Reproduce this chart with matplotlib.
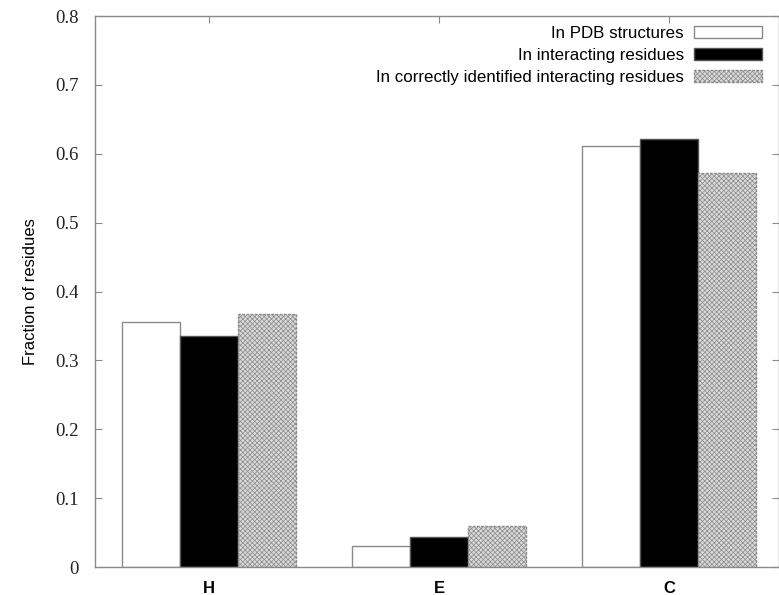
import numpy as np
import matplotlib
matplotlib.use("Agg")
import matplotlib.pyplot as plt

# values
categories = ["H", "E", "C"]
series_names = ["In PDB structures",
                "In interacting residues",
                "In correctly identified interacting residues"]
pdb = [0.356, 0.030, 0.611]
interacting = [0.335, 0.044, 0.621]
correct = [0.367, 0.060, 0.572]

plt.rcParams['hatch.color'] = '#a8a8a8'
plt.rcParams['hatch.linewidth'] = 0.5

fig = plt.figure(figsize=(7.79, 5.95), dpi=100)
ax = fig.add_axes([0.122, 0.047, 0.878, 0.926])

x = np.arange(len(categories))
w = 0.252
ax.bar(x - w, pdb, w, facecolor='white', edgecolor='#8a8a8a', linewidth=1.0,
       label=series_names[0], zorder=2)
ax.bar(x, interacting, w, facecolor='black', edgecolor='#555555', linewidth=1.0,
       label=series_names[1], zorder=2)
ax.bar(x + w, correct, w, facecolor='#dadada', edgecolor='#8a8a8a', linewidth=1.0,
       hatch='xxxxxxx', linestyle=(0, (2, 1)), label=series_names[2], zorder=2)

ax.set_xlim(-0.496, 2.478)
ax.set_ylim(0, 0.8)
ax.set_yticks(np.arange(0, 0.81, 0.1))
ax.set_yticklabels(["0"] + ["%.1f" % v for v in np.arange(0.1, 0.81, 0.1)],
                   family='Liberation Serif', fontsize=13.5, color='#222222')
ax.set_xticks(x)
ax.set_xticklabels(categories, family='Liberation Sans', fontweight='bold',
                   fontsize=12)
ax.tick_params(axis='both', direction='in', length=5, color='#8a8a8a',
               top=True, right=True)
ax.tick_params(axis='y', pad=12)
ax.tick_params(axis='x', pad=10)
for s in ax.spines.values():
    s.set_color('#8a8a8a')
    s.set_linewidth(1.0)

ax.set_ylabel("Fraction of residues", family='Liberation Sans', fontsize=12,
              labelpad=12)

leg = ax.legend(loc='upper right', bbox_to_anchor=(0.99, 1.0), frameon=False,
                markerfirst=False, prop={'family': 'Liberation Sans', 'size': 12.2},
                handlelength=4.0, handleheight=0.7, labelspacing=0.4,
                handletextpad=0.6, borderaxespad=0.2)
for t in leg.get_texts():
    t.set_ha('right')
leg._legend_box.align = 'right'

fig.savefig("out.png", dpi=100)
